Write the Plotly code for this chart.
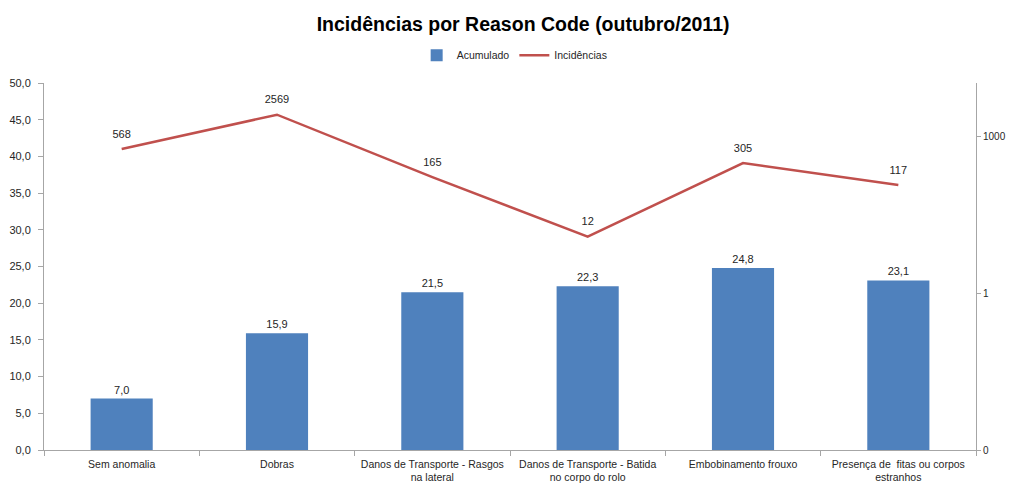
import plotly.graph_objects as go

categories = [
    "Sem anomalia",
    "Dobras",
    "Danos de Transporte - Rasgos<br>na lateral",
    "Danos de Transporte - Batida<br>no corpo do rolo",
    "Embobinamento frouxo",
    "Presença de  fitas ou corpos<br>estranhos",
]
acumulado = [7.0, 15.9, 21.5, 22.3, 24.8, 23.1]
incidencias = [568, 2569, 165, 12, 305, 117]

left_ticks = [0, 5, 10, 15, 20, 25, 30, 35, 40, 45, 50]
right_tickvals = [0.001, 1, 1000]
right_ticktext = ["0", "1", "1000"]

FONT = "Liberation Sans"
TXT = "#262626"
AX = "#A6A6A6"

# page body has an 8px margin, so the figure is sized to fit the window
W, H = 1006, 476

fig = go.Figure()
fig.add_trace(go.Bar(
    x=categories, y=acumulado, name="Acumulado",
    marker=dict(color="#4F81BD", line=dict(width=0)),
    width=0.4,
    text=[f"{v:.1f}".replace(".", ",") for v in acumulado],
    textposition="outside", cliponaxis=False,
    textfont=dict(family=FONT, size=11, color=TXT),
))
fig.add_trace(go.Scatter(
    x=categories, y=incidencias, name="Incidências", yaxis="y2",
    mode="lines+markers+text",
    line=dict(color="#C0504D", width=2.5),
    marker=dict(size=12, color="rgba(0,0,0,0)"),
    text=[str(v) for v in incidencias],
    textposition="top center", cliponaxis=False,
    textfont=dict(family=FONT, size=11, color=TXT),
))

fig.update_layout(
    width=W, height=H,
    margin=dict(l=36, r=37.5, t=75, b=34),
    paper_bgcolor="white", plot_bgcolor="white",
    separators=", ",
    font=dict(family=FONT, size=11, color=TXT),
    title=dict(text="<b>Incidências por Reason Code (outubro/2011)</b>",
               x=0.512, xanchor="center", y=1 - 16 / H, yanchor="middle",
               yref="container",
               font=dict(family=FONT, size=19.5, color="black")),
    legend=dict(orientation="h", x=0.505, xanchor="center", y=1.115, yanchor="top",
                font=dict(family=FONT, size=10.5, color=TXT),
                itemwidth=30, tracegroupgap=0),
    showlegend=True,
    bargap=0.6,
    xaxis=dict(
        showgrid=False, showline=True, linecolor=AX, linewidth=1,
        ticks="outside", tickson="boundaries", ticklen=5, tickcolor=AX,
        tickfont=dict(family=FONT, size=10.5, color=TXT),
        ticklabelstandoff=4,
        automargin=False, range=[-0.5, 5.5],
    ),
    yaxis=dict(
        range=[0, 50], tickvals=left_ticks, tickformat=".1f",
        showgrid=False, showline=True, linecolor=AX, linewidth=1,
        ticks="outside", ticklen=5, tickcolor=AX, zeroline=False,
        tickfont=dict(family=FONT, size=11, color=TXT),
        ticklabelstandoff=5,
        automargin=False,
    ),
    yaxis2=dict(
        type="log", range=[-3, 4.016], overlaying="y", side="right",
        tickvals=right_tickvals, ticktext=right_ticktext,
        showgrid=False, showline=True, linecolor=AX, linewidth=1,
        ticks="outside", ticklen=4, tickcolor=AX, zeroline=False,
        tickfont=dict(family=FONT, size=10, color=TXT),
        automargin=False,
    ),
)

fig.write_html("out.html")
